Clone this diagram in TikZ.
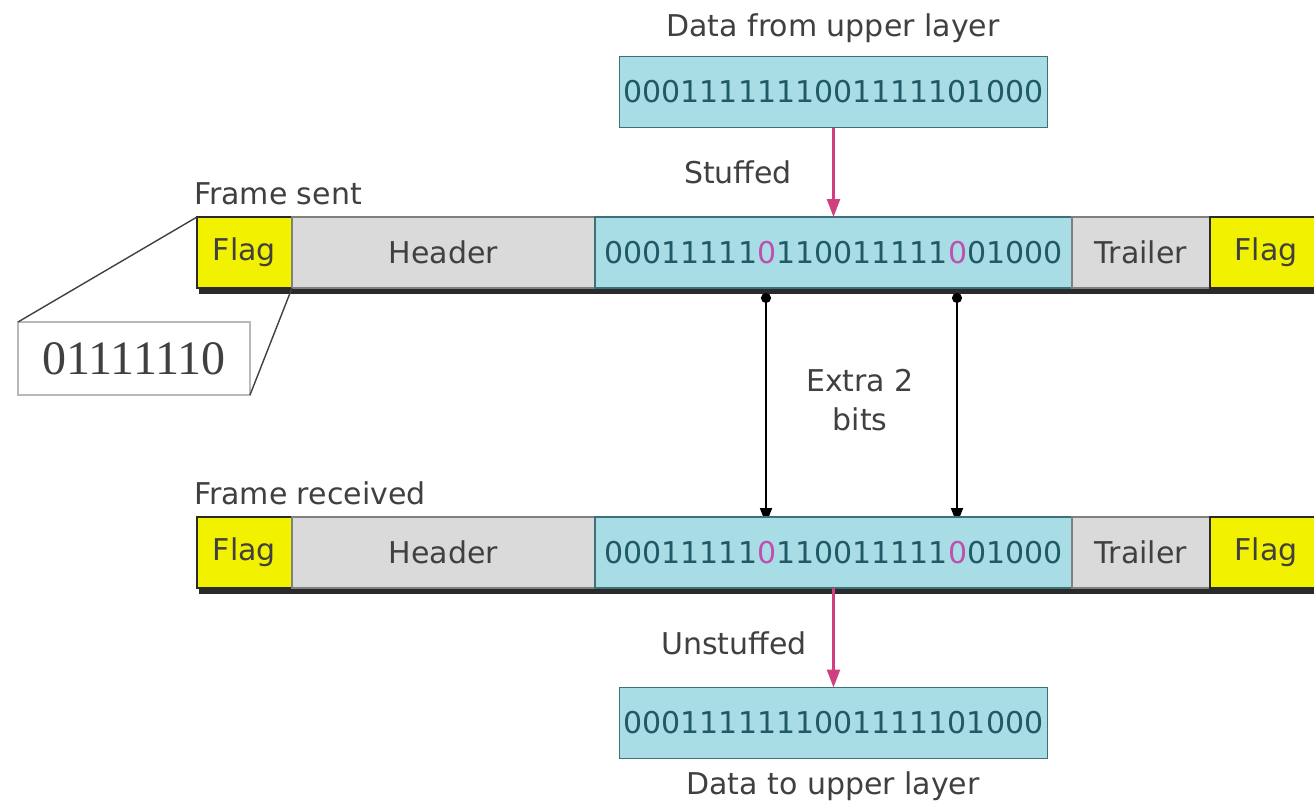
\documentclass[tikz,border=0pt]{standalone}
\usepackage{fontspec}
\newfontfamily\dv{DejaVu Sans}
\newfontfamily\lserif{Liberation Serif}
\usetikzlibrary{arrows.meta}
\definecolor{cy}{HTML}{A8DDE6}
\definecolor{cyb}{HTML}{3E7078}
\definecolor{cyt}{HTML}{1F5A66}
\definecolor{yl}{HTML}{F2F200}
\definecolor{gr}{HTML}{DADADA}
\definecolor{pk}{HTML}{D0407F}
\definecolor{pkbit}{HTML}{C050B0}
\definecolor{txt}{HTML}{404040}
\definecolor{shd}{HTML}{2A2A2A}
\tikzset{
  every node/.style={font=\dv\fontsize{15}{19.5}\selectfont, inner sep=0pt, outer sep=0pt},
  lbl/.style={text=txt},
  flagseg/.style={fill=yl, draw=shd, line width=0.8pt, text=txt},
  grayseg/.style={fill=gr, draw=gray, line width=0.6pt, text=txt},
  dataseg/.style={fill=cy, draw=cyb, line width=0.8pt, text=cyt},
  pkarrow/.style={draw=pk, line width=1.2pt, -{Triangle[width=6.5pt,length=9pt]}},
  blkarrow/.style={draw=black, line width=0.9pt, {Circle[length=5pt]}-{Triangle[width=6pt,length=8pt]}},
  calloutline/.style={draw=txt, line width=0.7pt}
}
\newcommand\seg[6]{\node[#5, minimum width={(#3-#2)*0.5pt}, minimum height=35.5pt, anchor=north west] (#1) at (#2,#4) {#6};}
\begin{document}
\begin{tikzpicture}[x=0.5pt,y=-0.5pt]
\useasboundingbox (0,0) rectangle (1314,803);
\fill[white] (0,0) rectangle (1314,803);

% top data
\node[lbl] (dfrom) at (833,28) {Data from upper layer};
\node[dataseg, minimum width=214pt, minimum height=35.5pt] (topdata) at (833.5,92) {0001111111001111101000};

% frame sent
\node[lbl, anchor=west] (fsent) at (194,194) {Frame sent};
\fill[shd] (199,222) rectangle (1320,294);
\seg{fsF1}{197}{292}{217}{flagseg}{Flag}
\seg{fsH}{292}{595}{217}{grayseg}{Header}
\seg{fsD}{595}{1072}{217}{dataseg}{00011111{\color{pkbit}0}110011111{\color{pkbit}0}01000}
\seg{fsT}{1072}{1210}{217}{grayseg}{Trailer}
\seg{fsF2}{1210}{1322}{217}{flagseg}{Flag}

\draw[pkarrow] (topdata.south) -- (topdata.south |- fsD.north);
\node[lbl] (stuffed) at (738,172) {Stuffed};

% callout
\node[draw=gray!55, line width=0.8pt, minimum width=116pt, minimum height=36.5pt, anchor=north west,
      font=\lserif\fontsize{24}{24}\selectfont, text=txt] (flagbits) at (18,322) {01111110};
\draw[calloutline] (fsF1.north west) -- (flagbits.north west);
\draw[calloutline] (fsF1.south east) -- (flagbits.south east);

% extra bits arrows
\coordinate (e1top) at (766,293);
\coordinate (e1bot) at (766,524);
\coordinate (e2top) at (957,293);
\coordinate (e2bot) at (957,524);
\draw[blkarrow] (e1top) -- (e1bot);
\draw[blkarrow] (e2top) -- (e2bot);
\node[lbl, align=center] (extra) at (860,400) {Extra 2\\bits};

% frame received
\node[lbl, anchor=west] (frec) at (194,493) {Frame received};
\fill[shd] (199,522) rectangle (1320,594);
\seg{frF1}{197}{292}{517}{flagseg}{Flag}
\seg{frH}{292}{595}{517}{grayseg}{Header}
\seg{frD}{595}{1072}{517}{dataseg}{00011111{\color{pkbit}0}110011111{\color{pkbit}0}01000}
\seg{frT}{1072}{1210}{517}{grayseg}{Trailer}
\seg{frF2}{1210}{1322}{517}{flagseg}{Flag}

% bottom data
\node[dataseg, minimum width=214pt, minimum height=35.5pt] (botdata) at (833.5,723) {0001111111001111101000};
\draw[pkarrow] (botdata.north |- frD.south) -- (botdata.north);
\node[lbl] (unstuffed) at (734,643) {Unstuffed};
\node[lbl] (dto) at (833,786) {Data to upper layer};
\end{tikzpicture}
\end{document}
